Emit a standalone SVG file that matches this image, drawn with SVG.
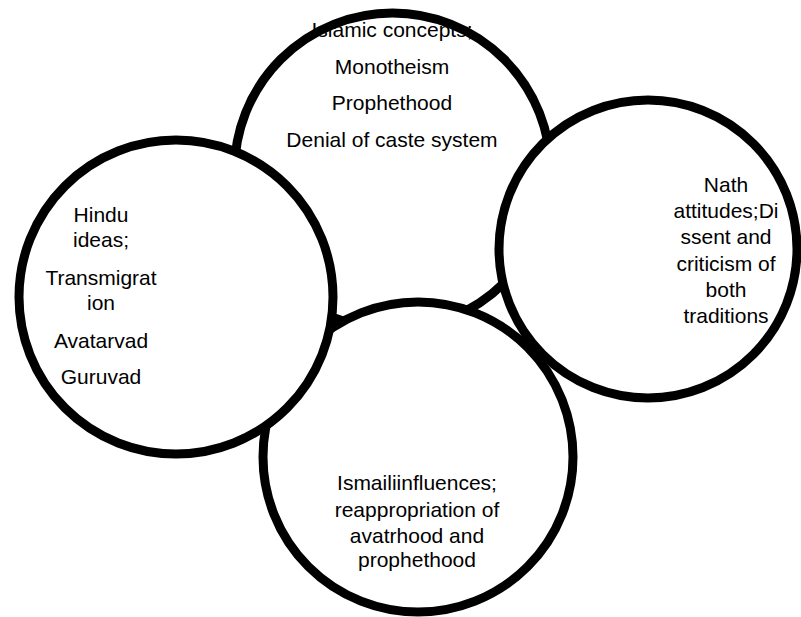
<svg xmlns="http://www.w3.org/2000/svg" width="801" height="617" viewBox="0 0 801 617">
  <style>
    .disc { fill: #ffffff; stroke: #000000; stroke-width: 9; }
    .fillonly { fill: #ffffff; stroke: none; }
    .ring { fill: none; stroke: #000000; stroke-width: 9; }
    .lbl { font-family: "Liberation Sans", Arial, sans-serif; font-size: 21px; fill: #000000; text-anchor: middle; }
  </style>
  <rect x="0" y="0" width="801" height="617" fill="#ffffff"/>
  <g id="connectors"/>
  <g id="islamic">
    <circle class="fillonly" cx="392.5" cy="171" r="158"/>
    <text class="lbl" x="392" y="37">Islamic concepts;</text>
    <text class="lbl" x="392" y="74">Monotheism</text>
    <text class="lbl" x="392" y="110">Prophethood</text>
    <text class="lbl" x="392" y="147">Denial of caste system</text>
    <circle class="ring" cx="392.5" cy="171" r="158"/>
  </g>
  <g id="nath">
    <circle class="disc" cx="648" cy="249" r="149"/>
    <text class="lbl" x="726" y="192">Nath</text>
    <text class="lbl" x="726" y="218">attitudes;Di</text>
    <text class="lbl" x="726" y="244">ssent and</text>
    <text class="lbl" x="726" y="271">criticism of</text>
    <text class="lbl" x="726" y="297">both</text>
    <text class="lbl" x="726" y="323">traditions</text>
  </g>
  <g id="ismaili">
    <circle class="disc" cx="418" cy="457" r="155"/>
    <text class="lbl" x="417" y="490">Ismailiinfluences;</text>
    <text class="lbl" x="417" y="517">reappropriation of</text>
    <text class="lbl" x="417" y="543">avatrhood and</text>
    <text class="lbl" x="417" y="567">prophethood</text>
  </g>
  <g id="hindu">
    <circle class="disc" cx="176" cy="297" r="157"/>
    <text class="lbl" x="101" y="222">Hindu</text>
    <text class="lbl" x="101" y="247">ideas;</text>
    <text class="lbl" x="101" y="285">Transmigrat</text>
    <text class="lbl" x="101" y="310">ion</text>
    <text class="lbl" x="101" y="348">Avatarvad</text>
    <text class="lbl" x="101" y="384">Guruvad</text>
  </g>
</svg>
